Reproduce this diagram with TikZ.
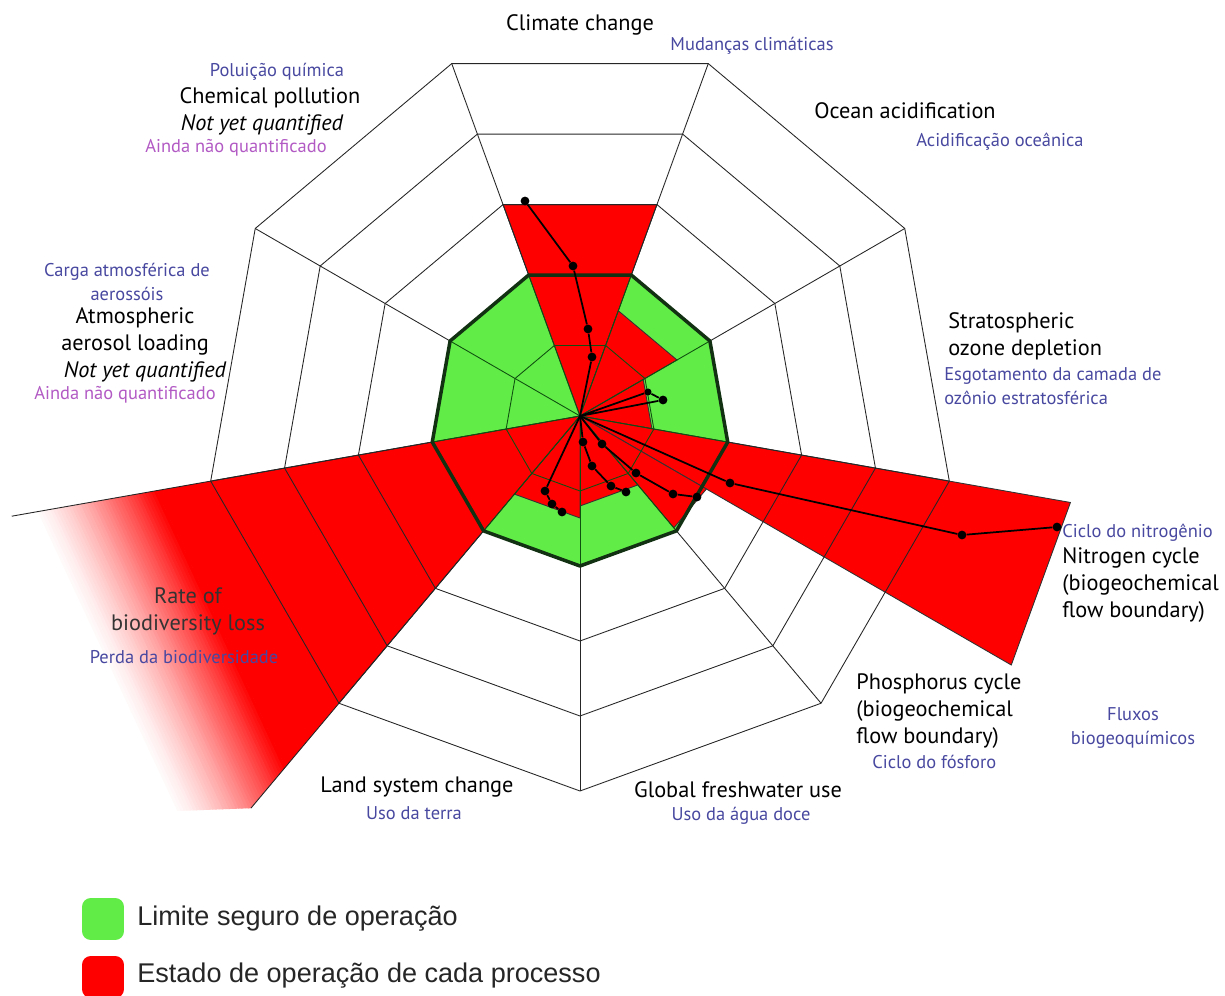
\documentclass[tikz,border=0pt]{standalone}
\usepackage{fontspec}
\setmainfont{PT Sans}
\newfontfamily\legendfont{Liberation Sans}
\definecolor{safegreen}{RGB}{98,236,72}
\definecolor{statered}{RGB}{255,0,0}
\definecolor{edgegreen}{RGB}{18,48,18}
\definecolor{ptblue}{RGB}{72,72,160}
\definecolor{ptorchid}{RGB}{178,90,196}
\tikzset{
    gridline/.style={draw=black!85, line width=0.5pt},
    innergrid/.style={draw=edgegreen!85!green, line width=0.5pt},
    wedge/.style={fill=statered, draw=black!80, line width=0.5pt},
    trail/.style={draw=black, line width=1pt},
    dot/.style={circle, fill=black, inner sep=0pt, minimum size=5pt},
    lbl/.style={font=\fontsize{12.7}{15.3}\selectfont, align=center, inner sep=0pt},
    lblpt/.style={font=\fontsize{10.5}{13.5}\selectfont, text=ptblue, align=center, inner sep=0pt},
    lblnyq/.style={lbl, font=\fontsize{12.7}{15.3}\selectfont\itshape},
    lblainda/.style={lblpt, text=ptorchid},
    keybox/.style={rounded corners=5pt, minimum size=0.84cm, inner sep=0pt},
    keytext/.style={font=\legendfont\fontsize{15.4}{18}\selectfont, text=black!85, anchor=west, inner sep=0pt}
}
\begin{document}
\begin{tikzpicture}[x=0.02cm, y=0.02cm]
    \useasboundingbox (0,0) rectangle (1225,-996);
    \coordinate (o) at (580,-416);

    \begin{scope}[shift={(o)}]
        \fill[safegreen] (270:150) \foreach \a in {310,350,...,590} {-- (\a:150)} -- cycle;

        \path[wedge] (0,0) -- (70:225) -- (110:225) -- cycle;
        \path[wedge] (0,0) -- (30:112) -- (70:112) -- cycle;
        \path[wedge] (0,0) -- (350:73) -- (30:73) -- cycle;
        \path[wedge] (0,0) -- (330:498) -- (350:498) -- cycle;
        \path[wedge] (0,0) -- (310:146) -- (330:146) -- cycle;
        \path[wedge] (0,0) -- (270:90) -- (310:90) -- cycle;
        \path[wedge] (0,0) -- (230:102) -- (270:102) -- cycle;

        \begin{scope}
            \clip (0,0) -- (190:577) -- (215:700) -- (230:512) -- cycle;
            \begin{scope}[rotate=205]
                \fill[statered] (-900,-500) rectangle (415.5,500);
                \foreach \i [evaluate=\i as \p using {int(100*pow(1-\i/40,1.3))}] in {0,...,39}
                    \fill[statered!\p!white] ({415+3*\i},-500) rectangle ({418.6+3*\i},500);
            \end{scope}
        \end{scope}
        \draw[gridline] (190:577) -- (0,0) -- (230:512);

        \foreach \a in {270,310,...,590} {
            \draw[innergrid] (0,0) -- (\a:150);
            \draw[gridline] (\a:150) -- (\a:375);
        }
        \draw[innergrid] (270:75) \foreach \a in {310,350,...,590} {-- (\a:75)} -- cycle;
        \foreach \k in {3,4,5}
            \draw[gridline] (270:{\k*75}) \foreach \a in {310,350,...,590} {-- (\a:{\k*75})} -- cycle;
        \draw[edgegreen, line width=2pt, line join=round] (270:150) \foreach \a in {310,350,...,590} {-- (\a:150)} -- cycle;
    \end{scope}

    \node[dot] (cl1) at (592,-357) {};
    \node[dot] (cl2) at (588,-329) {};
    \node[dot] (cl3) at (573,-266) {};
    \node[dot] (cl4) at (525,-201) {};
    \draw[trail] (o) -- (cl1) -- (cl2) -- (cl3) -- (cl4);

    \node[dot, minimum size=4pt] (oz1) at (648,-392) {};
    \node[dot] (oz2) at (663,-400) {};
    \draw[trail] (o) -- (oz1) -- (oz2) -- (o);

    \node[dot] (fw1) at (583,-442) {};
    \node[dot] (fw2) at (592,-466) {};
    \node[dot] (fw3) at (611,-486) {};
    \node[dot] (fw4) at (626,-492) {};
    \draw[trail] (o) -- (fw1) -- (fw2) -- (fw3) -- (fw4);

    \node[dot] (ph1) at (602,-444) {};
    \node[dot] (ph2) at (636,-473) {};
    \node[dot] (ph3) at (673,-494) {};
    \node[dot] (ph4) at (697,-497) {};
    \draw[trail] (o) -- (ph1) -- (ph2) -- (ph3) -- (ph4);

    \node[dot] (ni1) at (730,-483) {};
    \node[dot] (ni2) at (962,-535) {};
    \node[dot] (ni3) at (1057,-527) {};
    \draw[trail] (o) -- (ni1) -- (ni2) -- (ni3);

    \node[dot] (la1) at (545,-491) {};
    \node[dot] (la2) at (552,-504) {};
    \node[dot] (la3) at (562,-512) {};
    \draw[trail] (o) -- (la1) -- (la2) -- (la3);

    \node[lbl] (climate) at (580,-25) {Climate change};
    \node[lblpt] (climatept) at (752,-46) {Mudanças climáticas};
    \node[lblpt] (chempt) at (277,-72) {Poluição química};
    \node[lbl] (chem) at (270,-98) {Chemical pollution};
    \node[lblnyq] (chemnyq) at (262,-125) {Not yet quantified};
    \node[lblainda] (chemainda) at (236,-148) {Ainda não quantificado};
    \node[lbl] (ocean) at (905,-111) {Ocean acidification};
    \node[lblpt] (oceanpt) at (1000,-142) {Acidificação oceânica};
    \node[lblpt] (aeropt) at (127,-282) {Carga atmosférica de\\aerossóis};
    \node[lbl] (aero) at (135,-331) {Atmospheric\\aerosol loading};
    \node[lblnyq] (aeronyq) at (145,-372) {Not yet quantified};
    \node[lblainda] (aeroainda) at (125,-395) {Ainda não quantificado};
    \node[lbl, anchor=west, align=left] (ozone) at (948,-336) {Stratospheric\\ozone depletion};
    \node[lblpt, anchor=west, align=left] (ozonept) at (944,-386) {Esgotamento da camada de\\ozônio estratosférica};
    \node[lblpt, anchor=west] (nitropt) at (1062,-533) {Ciclo do nitrogênio};
    \node[lbl, anchor=west, align=left] (nitro) at (1062,-585) {Nitrogen cycle\\(biogeochemical\\flow boundary)};
    \node[lbl, anchor=west, align=left] (phos) at (856,-711) {Phosphorus cycle\\(biogeochemical\\flow boundary)};
    \node[lblpt, anchor=west] (phospt) at (872,-762) {Ciclo do fósforo};
    \node[lblpt] (flows) at (1133,-728) {Fluxos\\biogeoquímicos};
    \node[lbl] (water) at (738,-790) {Global freshwater use};
    \node[lblpt] (waterpt) at (741,-816) {Uso da água doce};
    \node[lbl] (land) at (417,-787) {Land system change};
    \node[lblpt] (landpt) at (414,-813) {Uso da terra};
    \node[lbl, text=black!80] (bio) at (188,-611) {Rate of\\biodiversity loss};
    \node[lblpt] (biopt) at (184,-657) {Perda da biodiversidade};

    \node[keybox, fill=safegreen] (keysafe) at (103,-919) {};
    \node[keybox, fill=statered] (keystate) at (103,-977) {};
    \node[keytext] (keysafetext) at (137,-919) {Limite seguro de operação};
    \node[keytext] (keystatetext) at (137,-976) {Estado de operação de cada processo};
\end{tikzpicture}
\end{document}
